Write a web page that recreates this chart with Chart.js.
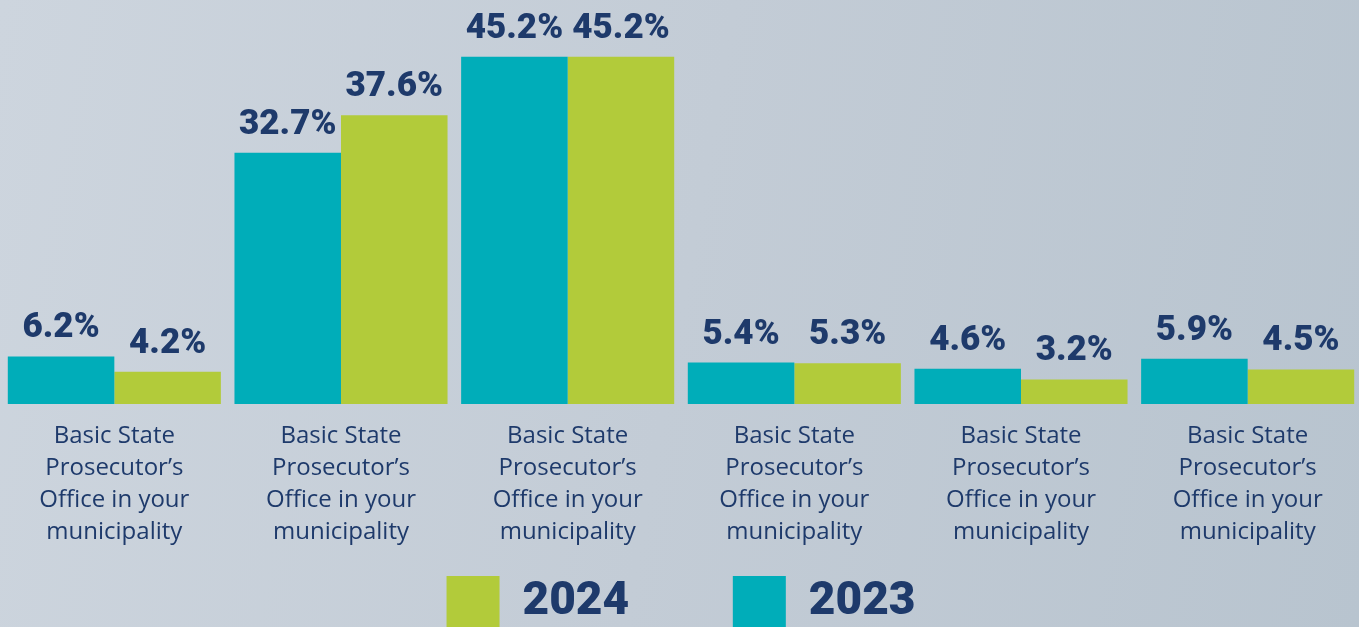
<!DOCTYPE html>
<html>
<head>
<meta charset="utf-8">
<script src="https://cdn.jsdelivr.net/npm/chart.js@4/dist/chart.umd.min.js"></script>
<style>
  html, body { margin: 0; padding: 0; overflow: hidden; width: 1359px; height: 627px; }
  body { background: linear-gradient(100deg, #cdd5de 0%, #c3ccd6 50%, #b8c4cf 100%); }
  #wrap { position: absolute; left: 0; top: 0; width: 1361px; height: 639px; }
</style>
</head>
<body>
<div id="wrap"><canvas id="c" width="1361" height="639"></canvas></div>
<script>
// categories (all six share the same label in the source)
const CATS = [
    ['Basic State', 'Prosecutor\u2019s', 'Office in your', 'municipality'],
    ['Basic State', 'Prosecutor\u2019s', 'Office in your', 'municipality'],
    ['Basic State', 'Prosecutor\u2019s', 'Office in your', 'municipality'],
    ['Basic State', 'Prosecutor\u2019s', 'Office in your', 'municipality'],
    ['Basic State', 'Prosecutor\u2019s', 'Office in your', 'municipality'],
    ['Basic State', 'Prosecutor\u2019s', 'Office in your', 'municipality'],
];
const VALS_2023 = [6.2, 32.7, 45.2, 5.4, 4.6, 5.9];
const VALS_2024 = [4.2, 37.6, 45.2, 5.3, 3.2, 4.5];

const TEAL = '#00adb9';
const LIME = '#b2cb3a';
const NAVY = '#1e3a6b';

// value labels above each bar
const barLabels = {
    id: 'barLabels',
    afterDatasetsDraw(chart) {
        const { ctx } = chart;
        ctx.save();
        ctx.fillStyle = NAVY;
        ctx.font = '900 35px Roboto';
        ctx.textAlign = 'center';
        ctx.textBaseline = 'alphabetic';
        chart.data.datasets.forEach((ds, di) => {
            chart.getDatasetMeta(di).data.forEach((bar, i) => {
                ctx.fillText(ds.data[i].toFixed(1) + '%', bar.x, bar.y - 19);
            });
        });
        ctx.restore();
    },
};

new Chart(document.getElementById('c'), {
    type: 'bar',
    data: {
        labels: CATS,
        datasets: [
            { label: '2023', data: VALS_2023, backgroundColor: TEAL },
            { label: '2024', data: VALS_2024, backgroundColor: LIME },
        ],
    },
    options: {
        responsive: false,
        devicePixelRatio: 1,
        animation: false,
        layout: { padding: { left: 1, right: 0, top: 0, bottom: 0 } },
        datasets: { bar: { categoryPercentage: 0.94, barPercentage: 1 } },
        plugins: {
            legend: {
                position: 'bottom',
                reverse: true,
                labels: {
                    color: NAVY,
                    font: { family: 'Roboto', size: 46, weight: '900' },
                    boxWidth: 53,
                    boxHeight: 53,
                    padding: 12,
                    // widen the gap between the two entries
                    generateLabels(chart) {
                        const items = Chart.defaults.plugins.legend.labels.generateLabels(chart);
                        items.forEach(it => { if (it.text === '2024') it.text = '2024' + ' '.repeat(8); });
                        return items;
                    },
                },
            },
            tooltip: { enabled: false },
        },
        scales: {
            x: {
                grid: { display: false, drawTicks: false },
                border: { display: false },
                ticks: {
                    color: NAVY,
                    font: { family: 'Open Sans', size: 24, lineHeight: 1.333 },
                    padding: 16,
                    maxRotation: 0,
                    autoSkip: false,
                },
            },
            y: {
                display: false,
                min: 0,
                max: 52.6,
            },
        },
    },
    plugins: [barLabels],
});
</script>
</body>
</html>
